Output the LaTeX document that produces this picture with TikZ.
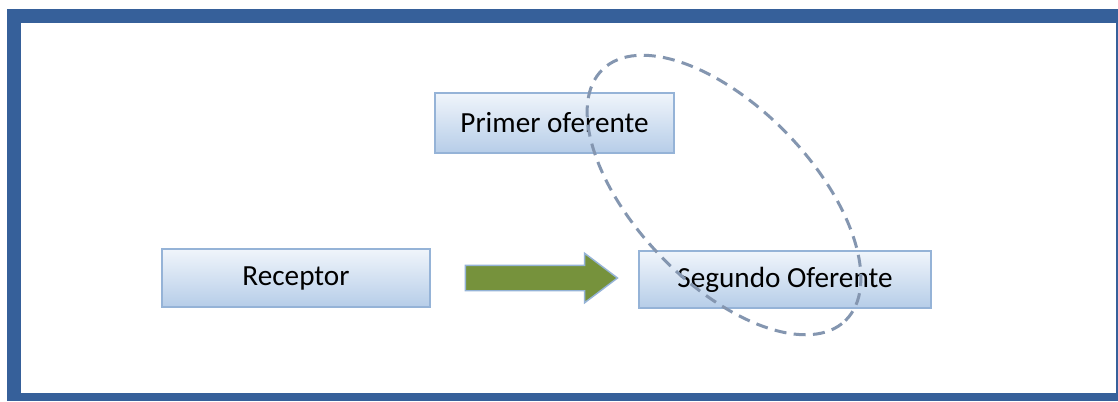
\documentclass[tikz,border=0pt]{standalone}
\usepackage{fontspec}
\setmainfont{Carlito}
\usetikzlibrary{shapes.geometric,shapes.arrows}
\definecolor{marco}{HTML}{36609A}
\definecolor{borde}{HTML}{95B3D7}
\definecolor{arriba}{HTML}{F0F5FB}
\definecolor{abajo}{HTML}{B6CDE8}
\definecolor{verde}{HTML}{76923C}
\definecolor{grupo}{HTML}{8496B0}

\tikzset{
  caja/.style={draw=borde, line width=1.1pt, top color=arriba, bottom color=abajo,
    inner sep=0pt, font=\fontsize{21.9}{26}\selectfont},
}

\begin{document}
\begin{tikzpicture}[x=0.75pt, y=-0.75pt]

% Marco exterior
\useasboundingbox (0,0) rectangle (1118,401);
\fill[marco] (7,9) rectangle (1118,401);
\fill[white] (21,23) rectangle (1116,393);

% Cajas
\node[caja, minimum width=201pt, minimum height=43.5pt] (receptor) at (296,278) {Receptor};
\node[caja, minimum width=179.25pt, minimum height=45pt] (primer) at (554.5,123) {Primer oferente};
\node[caja, minimum width=219pt, minimum height=42.75pt] (segundo) at (785,279.5) {Segundo Oferente};

% Flecha de bloque
\node[single arrow, draw=borde, line width=1.1pt, fill=verde, inner xsep=0pt, inner ysep=9pt,
  minimum width=36pt, minimum height=114pt, single arrow head extend=9pt,
  single arrow tip angle=74] (flecha) at (533,278) {};

% Grupo punteado
\node[ellipse, draw=grupo, line width=2.25pt, dash pattern=on 9pt off 5.5pt,
  minimum width=262pt, minimum height=132pt, inner sep=0pt, rotate=-46] (grupo) at (724,195) {};

\end{tikzpicture}
\end{document}
